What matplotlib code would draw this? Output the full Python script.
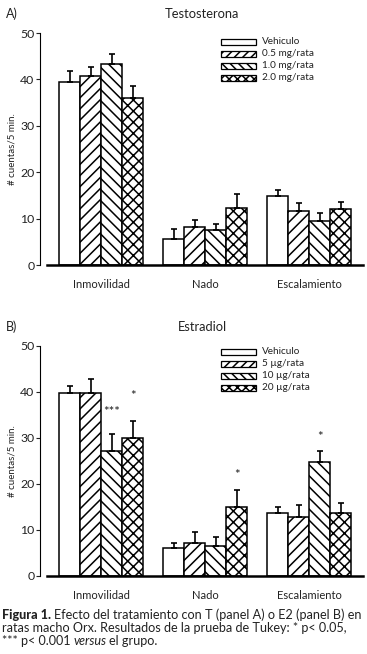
import matplotlib
matplotlib.use('Agg')
import numpy as np
import matplotlib.pyplot as plt
from matplotlib.patches import Rectangle

plt.rcParams['font.family'] = ['Lato', 'DejaVu Sans']
plt.rcParams['hatch.linewidth'] = 1.1

W, H = 367, 654

categorias = ['Inmovilidad', 'Nado', 'Escalamiento']
hatches = ['', '///', '\\\\\\', 'xxx']
hatches_leg = ['', '////', '\\\\\\\\', 'xxxx']

# Panel A: testosterona (media y extremo superior de la barra de error)
grupos_a = ['Vehiculo', '0.5 mg/rata', '1.0 mg/rata', '2.0 mg/rata']
medias_a = [[39.5, 5.6, 14.9], [40.8, 8.1, 11.6], [43.4, 7.5, 9.4], [36.0, 12.2, 12.1]]
errsup_a = [[41.8, 7.7, 16.2], [42.7, 9.6, 13.3], [45.4, 8.8, 11.2], [38.5, 15.4, 13.6]]

# Panel B: estradiol
grupos_b = ['Vehiculo', '5 µg/rata', '10 µg/rata', '20 µg/rata']
medias_b = [[39.8, 6.0, 13.8], [39.8, 7.1, 12.8], [27.2, 6.5, 24.7], [30.1, 15.1, 13.6]]
errsup_b = [[41.4, 7.2, 15.1], [42.8, 9.6, 15.4], [30.8, 8.4, 27.2], [33.7, 18.7, 15.9]]

# (grupo, categoria, texto, altura)
sig_b = [(2, 0, '***', 35.6), (3, 0, '*', 39.2), (3, 1, '*', 22.0), (2, 2, '*', 30.3)]


def fx(px):
    return px / W


def fy(py):
    return 1 - py / H


fig = plt.figure(figsize=(W / 100, H / 100), dpi=100)


def panel(y0, y50, grupos, medias, errsup, letra, titulo, leg_y, sig=None):
    ax = fig.add_axes([fx(40), fy(y0), fx(363) - fx(40), fy(y50) - fy(y0)])
    x = np.arange(len(categorias))
    w = 21 / 104
    for i, g in enumerate(grupos):
        xs = x + (i - 1.5) * w
        ax.bar(xs, medias[i], width=w, color='white', edgecolor='black',
               linewidth=1.1, hatch=hatches[i], zorder=2)
        sup = np.array(errsup[i]) - np.array(medias[i])
        ax.errorbar(xs, medias[i], yerr=[np.zeros(len(sup)), sup], fmt='none',
                    ecolor='black', elinewidth=1.2, capsize=2.3, capthick=1.2, zorder=3)
    if sig:
        for gi, ci, txt, h in sig:
            ax.text(x[ci] + (gi - 1.5) * w, h, txt, ha='center', va='center',
                    fontsize=9.5, color='#222')
    ax.set_xlim(-0.589, 2.516)
    ax.set_ylim(0, 50)
    ax.set_yticks([0, 10, 20, 30, 40, 50])
    ax.tick_params(axis='y', length=3, width=0.8, pad=1, labelsize=8.8, colors='#222')
    ax.set_xticks(x)
    ax.set_xticklabels(categorias)
    ax.tick_params(axis='x', length=0, pad=10, labelsize=8, colors='#222')
    ax.spines['top'].set_visible(False)
    ax.spines['right'].set_visible(False)
    ax.spines['left'].set_linewidth(0.8)
    ax.spines['bottom'].set_linewidth(1.8)
    ax.spines['bottom'].set_bounds(-0.522, 2.516)
    ax.set_ylabel('# cuentas/5 min.', fontsize=7, labelpad=3, color='#222')
    fig.text(fx(6), fy(y50 - 19), letra, fontsize=9, va='center', color='#222')
    fig.text(fx(202), fy(y50 - 19), titulo, fontsize=9.3, va='center', ha='center', color='#222')
    # leyenda
    for i, g in enumerate(grupos):
        yy = leg_y + i * 12
        r = Rectangle((fx(221), fy(yy + 3)), fx(256) - fx(221), fy(yy - 3) - fy(yy + 3),
                      transform=fig.transFigure, facecolor='white', edgecolor='black',
                      linewidth=0.9, hatch=hatches_leg[i])
        fig.patches.append(r)
        fig.text(fx(262), fy(yy), g, fontsize=7.2, va='center', color='#222')
    return ax


panel(265, 33, grupos_a, medias_a, errsup_a, 'A)', 'Testosterona', 41.7)
panel(576, 346, grupos_b, medias_b, errsup_b, 'B)', 'Estradiol', 351.7, sig_b)

# pie de figura
fs = 9.1
fig.canvas.draw()
r = fig.canvas.get_renderer()
t = fig.text(fx(2), fy(619), 'Figura 1.', fontsize=fs, fontweight='black', va='baseline', color='#222')
bb = t.get_window_extent(renderer=r)
fig.text(fx(bb.x1 + 3), fy(619), 'Efecto del tratamiento con T (panel A) o E2 (panel B) en',
         fontsize=fs, va='baseline', color='#222')
fig.text(fx(2), fy(632), 'ratas macho Orx. Resultados de la prueba de Tukey: * p< 0.05,',
         fontsize=fs, va='baseline', color='#222')
t = fig.text(fx(2), fy(645), '*** p< 0.001 ', fontsize=fs, va='baseline', color='#222')
bb = t.get_window_extent(renderer=r)
t2 = fig.text(fx(bb.x1), fy(645), 'versus', fontsize=fs, style='italic', va='baseline', color='#222')
bb2 = t2.get_window_extent(renderer=r)
fig.text(fx(bb2.x1 + 2.5), fy(645), 'el grupo.', fontsize=fs, va='baseline', color='#222')

fig.savefig('out.png', dpi=100)
